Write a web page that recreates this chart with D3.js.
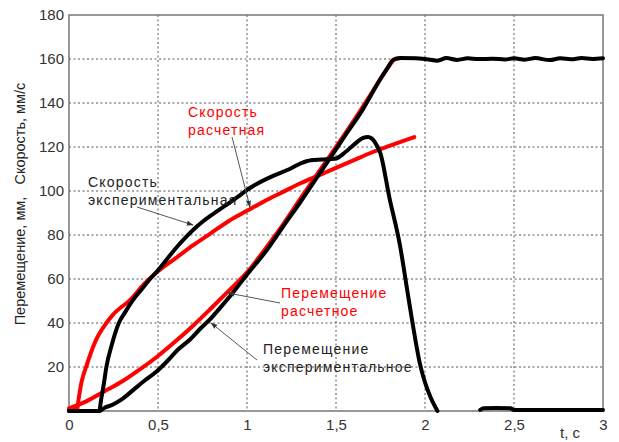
<!DOCTYPE html>
<html>
<head>
<meta charset="utf-8">
<script src="https://cdn.jsdelivr.net/npm/d3@7"></script>
<style>
  body { margin: 0; background: #fff; }
  svg { display: block; font-family: "Liberation Sans", Arial, sans-serif; }
</style>
</head>
<body>
<svg id="chart" width="619" height="442"></svg>
<script>
// Axis ticks
const xTicks = [0, 0.5, 1, 1.5, 2, 2.5, 3];
const yTicks = [20, 40, 60, 80, 100, 120, 140, 160, 180];

// Перемещение расчетное (мм)
const dispCalcT = [0, 0.1, 0.2, 0.3, 0.4, 0.5, 0.6, 0.7, 0.8, 0.9, 1.0, 1.11, 1.2, 1.3, 1.4, 1.5, 1.6, 1.7, 1.8, 1.83, 1.86];
const dispCalc  = [1.2, 4.5, 9, 13.5, 19, 25, 31.8, 39, 46.8, 54.8, 63, 74.5, 84.5, 96.5, 108.3, 120, 132, 144.5, 157, 160, 160.3];

// Перемещение экспериментальное (мм)
const dispExpT = [0, 0.17, 0.2, 0.24, 0.3, 0.36, 0.42, 0.49, 0.55, 0.61, 0.68, 0.74, 0.79, 0.85, 0.923, 1.0, 1.11, 1.2, 1.3, 1.4, 1.466, 1.55, 1.65, 1.75, 1.79, 1.82, 1.86,
                  1.95, 2.02, 2.07, 2.12, 2.18, 2.24, 2.3, 2.38, 2.45, 2.5, 2.56, 2.62, 2.7, 2.76, 2.82, 2.88, 2.94, 3.0];
const dispExp  = [0, 0, 1.5, 2.7, 5.5, 9.5, 13.5, 17.8, 22.5, 27.7, 32.5, 37.6, 41.5, 47, 54, 62, 73, 83.5, 95, 107, 114.8, 125, 137, 151, 156, 159.5, 160.5,
                  160.3, 159.8, 159.2, 160.4, 159.6, 160.3, 160, 160.1, 159.8, 160.3, 159.7, 160.4, 159.5, 160.3, 159.9, 160.4, 160, 160.3];

// Скорость расчетная (мм/с)
const speedCalcT = [0, 0.045, 0.055, 0.07, 0.1, 0.15, 0.21, 0.25, 0.35, 0.42, 0.5, 0.6, 0.7, 0.8, 0.9, 1.0, 1.1, 1.2, 1.3, 1.4, 1.5, 1.6, 1.7, 1.8, 1.94];
const speedCalc  = [0.8, 0.8, 6, 13, 21, 32, 40, 44, 51, 57.5, 63.5, 69.5, 75.5, 81, 86.5, 91, 95.5, 99.5, 103.5, 107, 110.5, 114, 117.5, 120.5, 124.5];

// Скорость экспериментальная (мм/с); null — разрыв записи
const speedExpT = [0, 0.17, 0.18, 0.195, 0.21, 0.24, 0.28, 0.32, 0.36, 0.41, 0.455, 0.5, 0.55, 0.6, 0.65, 0.7, 0.75, 0.8, 0.88, 0.96, 1.0, 1.05, 1.15, 1.24, 1.3, 1.36, 1.42, 1.5,
                   1.55, 1.6, 1.65, 1.68, 1.72, 1.75, 1.8, 1.86, 1.9, 1.93, 1.97, 2.0, 2.03, 2.07,
                   2.2, 2.31, 2.33, 2.4, 2.48, 2.5, 3.0];
const speedExp  = [0, 0, 5, 12, 20, 30, 40, 45.5, 50.5, 55.5, 60, 64, 69, 74, 78.5, 82.5, 86, 89, 93.5, 98, 100.5, 103, 107, 110, 112.5, 114, 114.3, 114.8,
                   117.5, 121, 124, 124.5, 122, 117, 97, 75, 55, 40, 22, 13, 6.5, 0,
                   null, 0.5, 1.2, 1.4, 1.2, 0.4, 0.4];

const svg = d3.select("#chart");
const plotL = 69, plotR = 603, plotT = 15, plotB = 411;

const x = d3.scaleLinear().domain([0, 3]).range([plotL, plotR]);
const y = d3.scaleLinear().domain([0, 180]).range([plotB, plotT]);
const fmt = d => String(d).replace(".", ",");

// Dotted grid
const grid = svg.append("g").attr("stroke", "#555").attr("stroke-width", 1).attr("stroke-dasharray", "2,2.5");
grid.selectAll("line.v").data(xTicks.slice(1, -1)).join("line").attr("class", "v")
  .attr("x1", d => x(d)).attr("x2", d => x(d)).attr("y1", plotT).attr("y2", plotB);
grid.selectAll("line.h").data(yTicks.slice(0, -1)).join("line").attr("class", "h")
  .attr("y1", d => y(d)).attr("y2", d => y(d)).attr("x1", plotL).attr("x2", plotR);

// Axes with labels only
const xAxis = svg.append("g").attr("transform", `translate(0,${plotB})`)
  .call(d3.axisBottom(x).tickValues(xTicks).tickFormat(fmt).tickSize(0).tickPadding(8));
const yAxis = svg.append("g").attr("transform", `translate(${plotL},0)`)
  .call(d3.axisLeft(y).tickValues(yTicks).tickFormat(fmt).tickSize(0).tickPadding(5));
[xAxis, yAxis].forEach(a => {
  a.select(".domain").remove();
  a.selectAll("text").attr("font-size", 15).attr("fill", "#333").attr("font-family", "Liberation Sans, Arial, sans-serif");
});

// Frame
svg.append("rect").attr("x", plotL).attr("y", plotT).attr("width", plotR - plotL).attr("height", plotB - plotT)
  .attr("fill", "none").attr("stroke", "#777").attr("stroke-width", 1.5);

// Curves
const line = d3.line().defined(d => d[1] !== null).x(d => x(d[0])).y(d => y(d[1])).curve(d3.curveMonotoneX);
const zip = (t, v) => t.map((ti, i) => [ti, v[i]]);
const series = [
  { t: dispCalcT, v: dispCalc, color: "#ff0000" },
  { t: speedCalcT, v: speedCalc, color: "#ff0000" },
  { t: dispExpT, v: dispExp, color: "#000" },
  { t: speedExpT, v: speedExp, color: "#000" }
];
svg.append("g").selectAll("path").data(series).join("path")
  .attr("d", s => line(zip(s.t, s.v)))
  .attr("fill", "none").attr("stroke", s => s.color).attr("stroke-width", 4)
  .attr("stroke-linejoin", "round").attr("stroke-linecap", "round");

// Leader lines with arrowheads
svg.append("defs").append("marker").attr("id", "arr").attr("viewBox", "0 0 10 10")
  .attr("refX", 9).attr("refY", 5).attr("markerWidth", 7).attr("markerHeight", 7).attr("orient", "auto")
  .append("path").attr("d", "M0,1.5L10,5L0,8.5Z").attr("fill", "#333");
const leaders = [
  [232, 137, 250, 207],
  [137, 207, 193, 225],
  [280, 303, 228, 293],
  [257, 360, 211, 323]
];
svg.append("g").selectAll("line").data(leaders).join("line")
  .attr("x1", d => d[0]).attr("y1", d => d[1]).attr("x2", d => d[2]).attr("y2", d => d[3])
  .attr("stroke", "#555").attr("stroke-width", 1).attr("marker-end", "url(#arr)");

// Curve labels
const labels = [
  { x: 188, y: 117, lines: ["Скорость", "расчетная"], color: "#ff0000" },
  { x: 88, y: 187, lines: ["Скорость", "экспериментальная"], color: "#222" },
  { x: 281, y: 298, lines: ["Перемещение", "расчетное"], color: "#ff0000" },
  { x: 263, y: 354, lines: ["Перемещение", "экспериментальное"], color: "#222" }
];
labels.forEach(l => {
  const t = svg.append("text").attr("x", l.x).attr("y", l.y).attr("fill", l.color)
    .attr("font-size", 14).attr("letter-spacing", 1.2);
  l.lines.forEach((s, i) => t.append("tspan").attr("x", l.x).attr("dy", i ? 17.5 : 0).text(s));
});

// Axis titles
svg.append("text").attr("transform", "translate(25,204) rotate(-90)").attr("text-anchor", "middle")
  .attr("font-size", 14.5).attr("fill", "#222").style("white-space", "pre")
  .text("Перемещение, мм,   Скорость, мм/с");
svg.append("text").attr("x", 560).attr("y", 438).attr("font-size", 15).attr("fill", "#333").text("t, с");
</script>
</body>
</html>
